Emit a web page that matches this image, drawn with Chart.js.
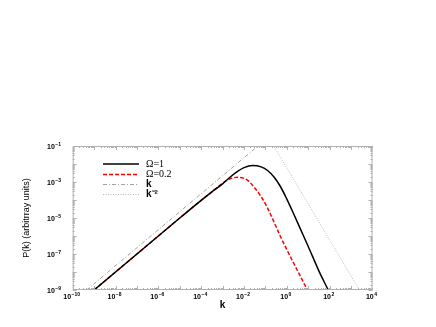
<!DOCTYPE html>
<html>
<head>
<meta charset="utf-8">
<script src="https://cdn.jsdelivr.net/npm/chart.js@4.4.1/dist/chart.umd.min.js"></script>
<style>
  html, body { margin: 0; padding: 0; background: #fff; }
</style>
</head>
<body>
<canvas id="pk" width="436" height="327"></canvas>
<script>
// all values are log10
const omega1LogK = [-9, -7, -5, -4, -3.5, -3, -2.6, -2.3, -2, -1.6, -1.2, -0.9, -0.6, -0.3, 0, 0.3, 0.6, 1, 1.5, 1.95, 2.1];
const omega1LogP = [-9, -7, -5, -4.02, -3.55, -3.1, -2.68, -2.41, -2.2, -2.08, -2.16, -2.36, -2.72, -3.25, -3.95, -4.72, -5.52, -6.58, -7.95, -9.05, -9.45];
const omega02LogK = [-9, -7, -5, -4, -3.5, -3.2, -2.9, -2.6, -2.3, -2, -1.8, -1.5, -1.2, -0.9, -0.6, -0.3, 0, 0.5, 1, 1.1];
const omega02LogP = [-9, -7, -5, -4.02, -3.55, -3.25, -2.98, -2.8, -2.74, -2.8, -2.94, -3.33, -3.82, -4.45, -5.22, -6.03, -6.76, -7.93, -9.1, -9.35];
const kLineLogK = [-10, -1];
const kLineLogP = [-9.65, -0.65];
const kMinus2LogK = [-1, 4];
const kMinus2LogP = [-0.22, -10.22];

const xTickExps = [-10, -8, -6, -4, -2, 0, 2, 4];
const yTickExps = [-9, -7, -5, -3, -1];
const legendLabels = ["Ω=1", "Ω=0.2", "k", "k⁻²"];

function pts(lk, lp) {
  return lk.map((v, i) => ({ x: Math.pow(10, v), y: Math.pow(10, lp[i]) }));
}

// "10" with a raised exponent, anchored by align ("center" or "right")
function drawPow(ctx, e, x, y, align) {
  const base = "10", exp = String(e).replace("-", "\u2212");
  ctx.font = "bold 7px 'Liberation Sans'";
  const wb = ctx.measureText(base).width;
  ctx.font = "bold 5px 'Liberation Sans'";
  const we = ctx.measureText(exp).width;
  const w = wb + we + 0.5;
  const left = align === "right" ? x - w : x - w / 2;
  ctx.font = "bold 7px 'Liberation Sans'";
  ctx.fillText(base, left, y);
  ctx.font = "bold 5px 'Liberation Sans'";
  ctx.fillText(exp, left + wb + 0.5, y - 3);
}

// frame, inward ticks on all four sides and the power-of-ten labels
const frameTicks = {
  id: "frameTicks",
  afterDraw(chart) {
    const { ctx, chartArea: a, scales: { x, y } } = chart;
    ctx.save();
    ctx.strokeStyle = "#b0b0b0";
    ctx.lineWidth = 1;
    ctx.strokeRect(a.left + 0.5, a.top + 0.5, a.right - a.left - 1, a.bottom - a.top - 1);
    ctx.beginPath();
    for (let d = -10; d < 4; d++) {
      for (let m = 1; m <= 9; m++) {
        const px = Math.round(x.getPixelForValue(m * Math.pow(10, d))) + 0.5;
        const len = m === 1 ? 4 : 2;
        ctx.moveTo(px, a.bottom); ctx.lineTo(px, a.bottom - len);
        ctx.moveTo(px, a.top); ctx.lineTo(px, a.top + len);
      }
    }
    for (let d = -9; d < -1; d++) {
      for (let m = 1; m <= 9; m++) {
        const py = Math.round(y.getPixelForValue(m * Math.pow(10, d))) + 0.5;
        const len = m === 1 ? 4 : 2;
        ctx.moveTo(a.left, py); ctx.lineTo(a.left + len, py);
        ctx.moveTo(a.right, py); ctx.lineTo(a.right - len, py);
      }
    }
    ctx.stroke();

    ctx.fillStyle = "#000";
    ctx.textBaseline = "alphabetic";
    ctx.textAlign = "left";
    xTickExps.forEach(e => {
      drawPow(ctx, e, x.getPixelForValue(Math.pow(10, e)) - 1, a.bottom + 9, "center");
    });
    yTickExps.forEach(e => {
      drawPow(ctx, e, 61, y.getPixelForValue(Math.pow(10, e)) + 2.5, "right");
    });
    ctx.restore();
  }
};

// legend drawn inside the plot, top left
const insideLegend = {
  id: "insideLegend",
  afterDraw(chart) {
    const ctx = chart.ctx;
    const x0 = 103, x1 = 139, tx = 146;
    const rows = [164, 174.5, 184.5, 194.5];
    ctx.save();
    chart.data.datasets.forEach((ds, i) => {
      const yy = rows[i];
      ctx.beginPath();
      ctx.strokeStyle = ds.borderColor;
      ctx.lineWidth = ds.borderWidth;
      ctx.setLineDash(ds.borderDash || []);
      ctx.moveTo(x0, yy);
      ctx.lineTo(x1, yy);
      ctx.stroke();
      ctx.setLineDash([]);
      ctx.fillStyle = "#000";
      ctx.textBaseline = "middle";
      ctx.font = i < 2 ? "10px 'Liberation Serif'" : "bold 10px 'Liberation Sans'";
      ctx.fillText(legendLabels[i], tx, yy);
    });
    ctx.restore();
  }
};

new Chart(document.getElementById("pk"), {
  type: "line",
  data: {
    datasets: [
      { label: legendLabels[0], data: pts(omega1LogK, omega1LogP), borderColor: "#000", borderWidth: 1.5, cubicInterpolationMode: "monotone" },
      { label: legendLabels[1], data: pts(omega02LogK, omega02LogP), borderColor: "#ff0000", borderWidth: 1.5, borderDash: [4, 2], cubicInterpolationMode: "monotone" },
      { label: legendLabels[2], data: pts(kLineLogK, kLineLogP), borderColor: "#8a8a8a", borderWidth: 0.8, borderDash: [4, 2, 1, 2] },
      { label: legendLabels[3], data: pts(kMinus2LogK, kMinus2LogP), borderColor: "#a8a8a8", borderWidth: 0.8, borderDash: [1, 1.5] }
    ]
  },
  options: {
    responsive: false,
    animation: false,
    devicePixelRatio: 1,
    elements: { point: { radius: 0 } },
    layout: { padding: { top: 146, right: 63.5, left: 0, bottom: 0 } },
    plugins: { legend: { display: false }, tooltip: { enabled: false } },
    scales: {
      x: {
        type: "logarithmic",
        min: 1e-10,
        max: 1e4,
        afterFit(s) { s.height = 37; },
        grid: { display: false, drawTicks: false },
        border: { display: false },
        ticks: { display: false },
        title: {
          display: true,
          text: "k",
          color: "#000",
          font: { family: "'Liberation Sans'", size: 10, weight: "bold" },
          padding: { top: 0, bottom: 16 }
        }
      },
      y: {
        type: "logarithmic",
        min: 1e-9,
        max: 1e-1,
        afterFit(s) { s.width = 72.7; },
        grid: { display: false, drawTicks: false },
        border: { display: false },
        ticks: { display: false },
        title: {
          display: true,
          text: "P(k) (arbitrray units)",
          color: "#000",
          font: { family: "'Liberation Sans'", size: 9 },
          padding: { top: 21, bottom: 0 }
        }
      }
    }
  },
  plugins: [frameTicks, insideLegend]
});
</script>
</body>
</html>
